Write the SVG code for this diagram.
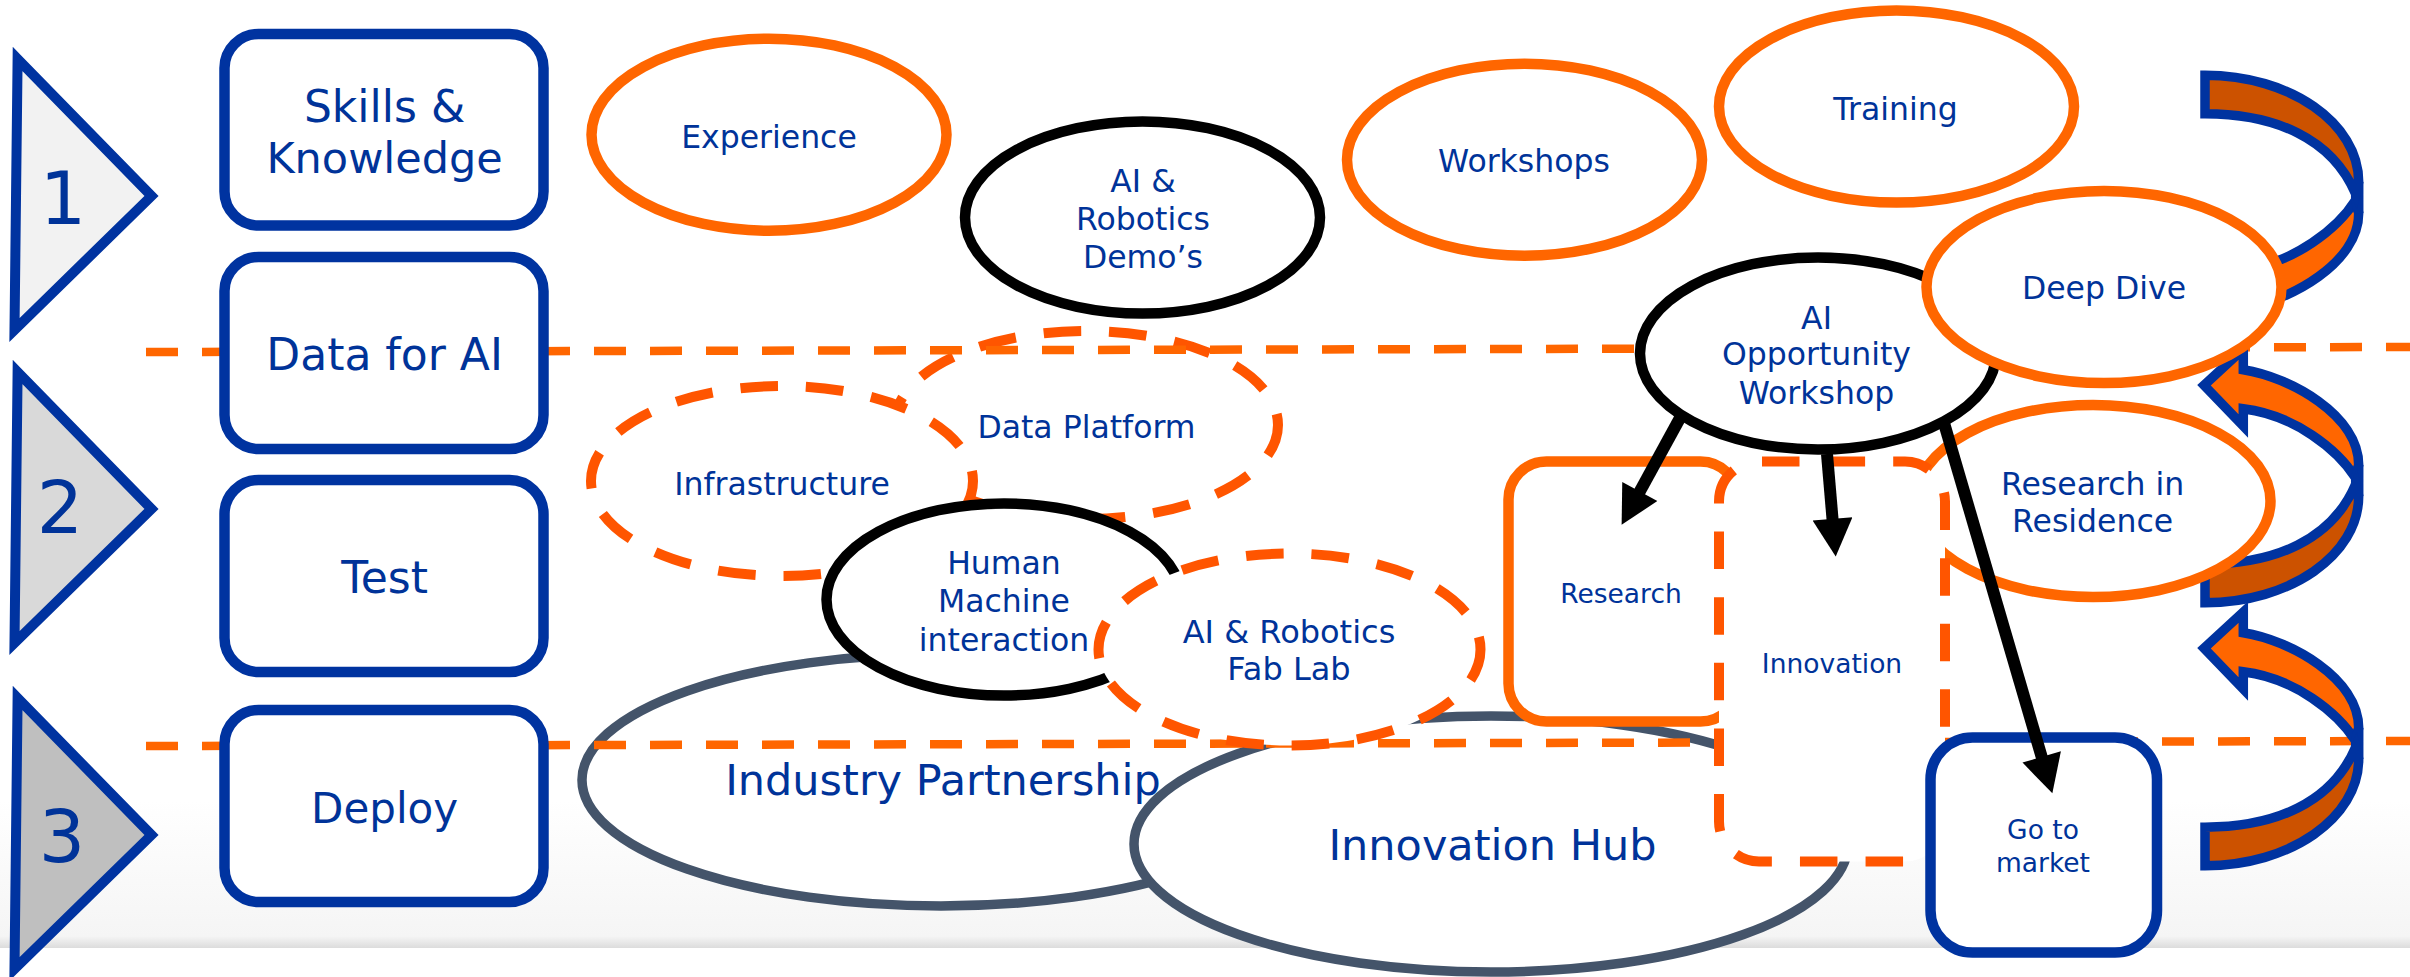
<svg xmlns="http://www.w3.org/2000/svg" width="2410" height="977" viewBox="0 0 2410 977">
<style>
text{font-family:"DejaVu Sans","Liberation Sans",sans-serif;fill:#003399;text-anchor:middle}
.t31{font-size:31.5px}.t26{font-size:26.5px}.t44{font-size:44px}.t43{font-size:43px}
.tri{stroke:#0033a0;stroke-width:10;stroke-miterlimit:10}
.box{fill:#fff;stroke:#0033a0;stroke-width:10.5}
.solid{fill:#fff;stroke:#ff6600;stroke-width:10.5}
.blk{fill:#fff;stroke:#000;stroke-width:10.5}
.dash{fill:#fff;stroke:#ff5500;stroke-width:10;stroke-dasharray:37.5 28.1;stroke-dashoffset:5}
.gray{fill:#fff;stroke:#44546a;stroke-width:9.5}
.sep{fill:none;stroke:#ff6600;stroke-width:8.5;stroke-dasharray:32 24}
.arr{fill:none;stroke:#000;stroke-width:12;marker-end:url(#head)}
.lb{fill:#ff6600;stroke:#0033a0;stroke-width:9.5;stroke-miterlimit:10}
.db{fill:#cc5200;stroke:#0033a0;stroke-width:9.5;stroke-miterlimit:10}
.wg{fill:#0033a0;stroke:#0033a0;stroke-width:9.5}
</style>
<defs>
<linearGradient id="bg" x1="0" y1="0" x2="0" y2="1">
<stop offset="0" stop-color="#fff"/><stop offset="0.92" stop-color="#f5f5f5"/><stop offset="1" stop-color="#dcdcdc"/>
</linearGradient>
<marker id="head" markerUnits="userSpaceOnUse" markerWidth="40" markerHeight="40" viewBox="0 0 36 38" refX="1" refY="19" orient="auto">
<path d="M0,0L36,19L0,38Z" fill="#000"/>
</marker>
<g id="curved">
<path class="lb" d="M2204,385.3L2243.3,349L2243.3,369.7C2290,377 2358.7,415 2358.7,465L2355.7,478C2338,450 2295,415 2243.3,408.7L2243.3,426Z"/>
<path class="wg" d="M2358.7,465L2358.7,496L2355.7,484L2355.7,478Z"/>
<path class="db" d="M2358.7,496C2358.7,555 2290,602.7 2205,602.7L2205,564.2C2275,564 2332,540 2355.7,484Z"/>
</g>
</defs>
<rect width="2410" height="977" fill="#fff"/>
<rect y="800" width="2410" height="148" fill="url(#bg)"/>

<g id="stage-1"><polygon class="tri" points="17.6,59 151.5,196 14.5,330" fill="#f2f2f2"/><text x="63" y="224" style="font-size:73px">1</text></g>
<g id="stage-2"><polygon class="tri" points="17.6,372 151.5,509 14.5,643" fill="#d9d9d9"/><text x="60" y="533" style="font-size:73px">2</text></g>
<g id="stage-3"><polygon class="tri" points="17.6,698 151.5,835 14.5,969" fill="#bfbfbf"/><text x="62" y="862" style="font-size:73px">3</text></g>

<g id="experience"><ellipse class="solid" cx="769" cy="134.7" rx="177.5" ry="96"/><text class="t31" x="769" y="147.7">Experience</text></g>
<g id="demos"><ellipse class="blk" cx="1142.5" cy="217.5" rx="177.5" ry="96"/><text class="t31" x="1143" y="191.7">AI &amp;</text><text class="t31" x="1143" y="230">Robotics</text><text class="t31" x="1143" y="268">Demo’s</text></g>
<g id="workshops"><ellipse class="solid" cx="1524.5" cy="159.7" rx="177.5" ry="96"/><text class="t31" x="1524" y="172">Workshops</text></g>
<g id="training"><ellipse class="solid" cx="1896.5" cy="106.5" rx="177.5" ry="96"/><text class="t31" x="1895.5" y="120">Training</text></g>

<g id="data-platform"><ellipse class="dash" cx="1086" cy="425" rx="192" ry="94"/><text class="t31" x="1086.5" y="438">Data Platform</text></g>
<g id="industry-partnership"><ellipse class="gray" cx="941" cy="780" rx="359" ry="126"/><text class="t43" x="943" y="795">Industry Partnership</text></g>
<g id="innovation-hub"><ellipse class="gray" cx="1491" cy="844" rx="357" ry="128"/><text class="t43" x="1492.5" y="860">Innovation Hub</text></g>

<g id="separators">
<path class="sep" d="M146,352L2410,347"/>
<path class="sep" d="M146,746L2410,741"/>
</g>

<g id="infrastructure"><ellipse class="dash" cx="782" cy="481" rx="191" ry="95"/><text class="t31" x="782" y="495">Infrastructure</text></g>
<g id="human-machine"><ellipse class="blk" cx="1004" cy="599.5" rx="177.5" ry="96"/><text class="t31" x="1004" y="574">Human</text><text class="t31" x="1004" y="612">Machine</text><text class="t31" x="1004" y="650.6">interaction</text></g>
<g id="fab-lab"><ellipse class="dash" cx="1289.5" cy="649.5" rx="191" ry="96"/><text x="1289" y="643" style="font-size:32px">AI &amp; Robotics</text><text x="1289" y="680" style="font-size:32px">Fab Lab</text></g>

<g id="research"><rect class="solid" x="1508.5" y="461.5" width="230" height="260" rx="38"/><text class="t26" x="1621" y="602.6">Research</text></g>
<g id="curved-arrows">
<use href="#curved"/>
<use href="#curved" transform="translate(0,263)"/>
<use href="#curved" transform="translate(0,678) scale(1,-1)"/>
</g>
<g id="research-residence"><ellipse class="solid" cx="2093" cy="501" rx="177.5" ry="96"/><text class="t31" x="2092.6" y="495">Research in</text><text class="t31" x="2092.6" y="531.6">Residence</text></g>
<g id="innovation"><rect class="dash" style="stroke-dashoffset:-3" x="1719" y="461.5" width="226" height="400" rx="40"/><text class="t26" x="1832" y="672.7">Innovation</text></g>
<g id="ai-opportunity"><ellipse class="blk" cx="1818" cy="353.5" rx="178" ry="96"/><text class="t31" x="1816.5" y="328.7">AI</text><text class="t31" x="1816.5" y="365">Opportunity</text><text class="t31" x="1816.5" y="403.6">Workshop</text></g>
<g id="deep-dive"><ellipse class="solid" cx="2104" cy="287" rx="177.5" ry="96"/><text class="t31" x="2104" y="299">Deep Dive</text></g>
<g id="go-to-market"><rect class="box" x="1930.5" y="737.5" width="226.5" height="215" rx="42"/><text class="t26" x="2043" y="839">Go to</text><text class="t26" x="2043" y="872">market</text></g>

<g id="skills"><rect class="box" x="224.5" y="34" width="319" height="191.5" rx="34"/><text class="t44" x="384.6" y="122">Skills &amp;</text><text class="t43" x="384.6" y="172.5">Knowledge</text></g>
<g id="data-for-ai"><rect class="box" x="224.5" y="257" width="319" height="192" rx="34"/><text class="t44" x="384.6" y="370">Data for AI</text></g>
<g id="test"><rect class="box" x="224.5" y="480" width="319" height="192" rx="34"/><text class="t44" x="384.6" y="593">Test</text></g>
<g id="deploy"><rect class="box" x="224.5" y="710" width="319" height="192" rx="34"/><text x="384.6" y="823" style="font-size:42px">Deploy</text></g>

<g id="connectors">
<path class="arr" d="M1680,418L1639.3,492.4"/>
<path class="arr" d="M1827,454L1832.6,519.9"/>
<path class="arr" d="M1944,423L2042,758"/>
</g>
</svg>
